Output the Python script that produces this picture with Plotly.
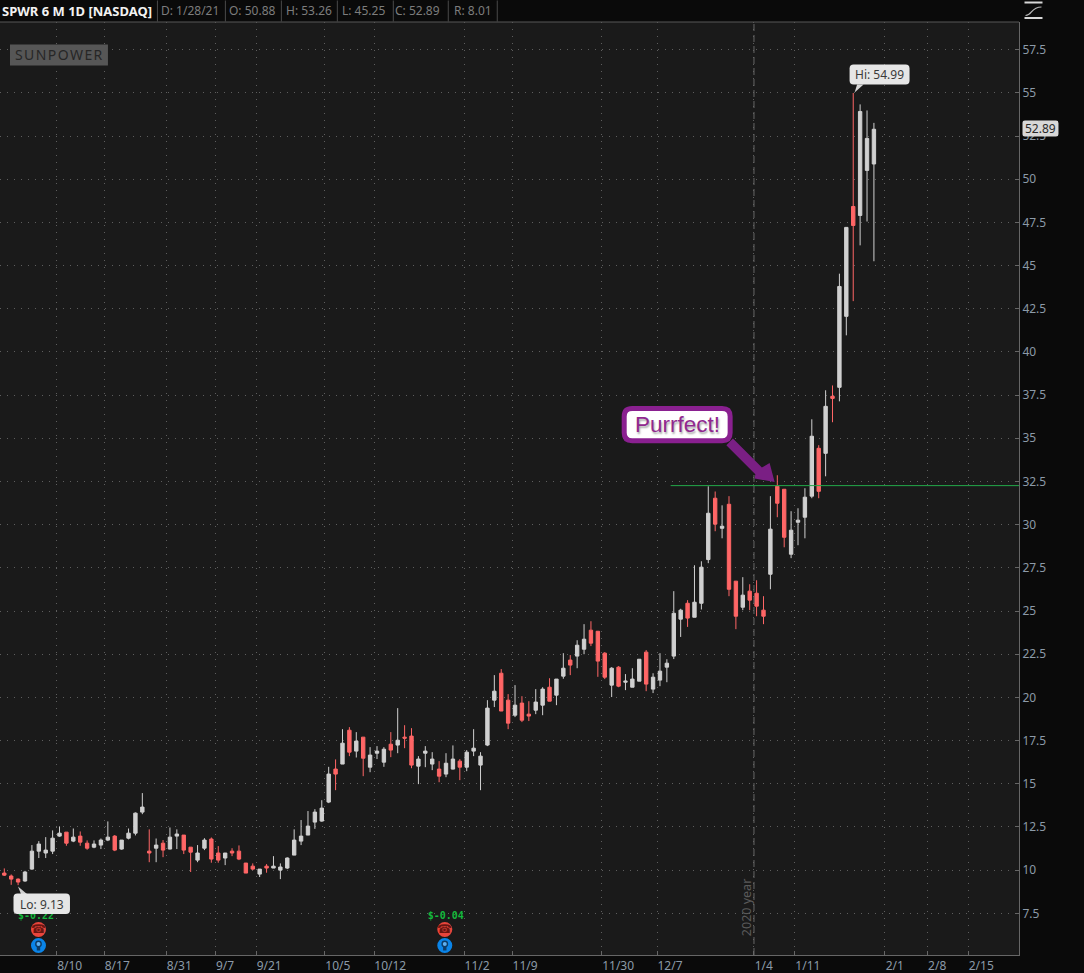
import plotly.graph_objects as go

W, H = 1084, 973
L_M, R_M, T_M, B_M = 0, 64.5, 21.5, 18

CANDLE_INDEX = list(range(127))

OPEN = [9.83, 9.66, 9.48, 9.37, 10.06, 11.10, 10.99, 11.10, 11.97, 12.20,
        11.68, 11.97, 11.56, 11.33, 11.45, 11.74, 11.97, 11.22, 11.85, 12.14,
        13.36, 11.10, 11.27, 11.56, 11.22, 11.97, 12.03, 11.33, 10.58, 11.27,
        11.80, 10.99, 10.70, 11.10, 11.10, 10.41, 10.23, 9.77, 10.23, 10.12,
        10.00, 10.12, 10.87, 11.68, 12.03, 12.78, 12.84, 13.94, 15.85, 16.14,
        18.10, 16.89, 17.70, 15.96, 16.77, 16.25, 17.29, 17.24, 17.70, 17.76,
        16.02, 16.77, 16.14, 15.85, 15.56, 15.85, 16.31, 15.96, 16.89, 16.08,
        17.24, 19.84, 21.40, 19.84, 18.97, 19.67, 19.03, 19.26, 19.55, 20.59,
        20.13, 21.23, 22.16, 22.39, 22.79, 23.89, 23.83, 22.56, 20.71, 21.75,
        20.88, 20.59, 20.94, 22.62, 20.48, 21.00, 21.75, 22.39, 24.53, 25.45,
        24.64, 25.45, 27.98, 31.53, 29.79, 31.18, 26.73, 25.22, 26.15, 26.03,
        25.05, 27.13, 32.22, 32.05, 28.29, 30.14, 30.43, 31.65, 34.42, 34.13,
        37.43, 37.95, 42.06, 48.42, 47.90, 50.51, 50.88]
HIGH = [10.10, 9.75, 9.52, 9.96, 11.45, 11.68, 11.91, 12.30, 12.53, 12.20,
        12.41, 12.24, 11.72, 11.72, 11.83, 12.82, 12.03, 11.74, 12.41, 13.34,
        14.46, 12.36, 11.83, 11.74, 12.47, 12.36, 12.03, 11.33, 11.45, 11.85,
        11.89, 11.39, 10.99, 11.27, 11.43, 10.41, 10.39, 10.06, 10.35, 10.81,
        10.39, 10.74, 12.36, 12.90, 13.42, 13.53, 14.05, 15.98, 16.41, 18.16,
        18.28, 17.99, 17.70, 17.12, 17.18, 17.12, 17.99, 19.38, 18.39, 18.22,
        16.60, 17.18, 16.83, 16.31, 16.77, 17.22, 16.43, 16.95, 18.16, 16.83,
        19.84, 21.29, 21.64, 20.19, 20.71, 20.07, 19.78, 20.48, 20.59, 21.11,
        21.06, 22.56, 22.45, 23.31, 24.24, 24.41, 23.83, 22.62, 21.75, 21.81,
        21.35, 21.69, 22.21, 22.74, 21.40, 22.56, 22.21, 26.15, 25.13, 25.63,
        27.65, 27.88, 32.22, 31.92, 31.12, 31.65, 26.73, 26.96, 26.55, 26.78,
        25.86, 31.65, 32.86, 32.05, 30.78, 30.95, 32.11, 36.10, 34.60, 37.78,
        38.06, 44.53, 47.23, 54.99, 54.33, 53.98, 53.26]
LOW = [9.66, 9.15, 9.13, 9.33, 10.02, 10.70, 10.70, 10.93, 11.93, 11.41,
       11.62, 11.41, 11.18, 11.27, 11.22, 11.68, 11.10, 11.18, 11.78, 12.01,
       13.24, 10.46, 10.46, 10.75, 11.20, 11.22, 10.93, 9.89, 10.46, 11.16,
       10.43, 10.43, 10.29, 10.81, 10.58, 9.83, 10.00, 9.60, 9.85, 10.12,
       9.48, 10.06, 10.87, 11.45, 12.03, 12.39, 12.80, 13.88, 14.63, 16.14,
       16.60, 16.52, 15.44, 15.67, 16.43, 15.98, 16.54, 16.77, 17.06, 15.90,
       14.98, 15.96, 15.79, 15.09, 15.38, 15.83, 15.21, 15.73, 16.60, 14.63,
       17.18, 19.44, 19.21, 18.16, 18.86, 18.57, 18.63, 19.03, 18.97, 19.78,
       19.55, 21.08, 21.29, 21.69, 22.50, 22.97, 21.19, 21.06, 20.02, 20.59,
       20.42, 20.59, 20.94, 20.36, 20.25, 20.65, 20.88, 22.22, 23.50, 24.08,
       24.64, 25.09, 27.77, 29.62, 29.21, 25.86, 23.95, 25.05, 25.05, 24.70,
       24.24, 26.26, 30.43, 28.69, 28.06, 28.81, 29.21, 31.53, 31.53, 32.80,
       35.93, 37.14, 40.96, 42.94, 46.17, 47.55, 45.25]
CLOSE = [9.71, 9.48, 9.31, 9.89, 11.10, 11.51, 11.16, 11.85, 12.14, 11.56,
         11.91, 11.62, 11.27, 11.51, 11.74, 11.91, 11.16, 11.74, 12.14, 13.30,
         13.65, 10.99, 11.45, 11.16, 11.91, 12.09, 11.16, 11.04, 10.99, 11.74,
         10.64, 10.58, 10.99, 10.99, 10.64, 9.83, 10.06, 10.06, 10.12, 10.23,
         10.18, 10.70, 11.74, 11.97, 12.55, 13.36, 13.59, 15.56, 15.56, 17.35,
         16.83, 17.47, 16.48, 16.66, 16.89, 17.00, 16.95, 17.52, 17.64, 16.08,
         16.43, 16.89, 16.43, 15.44, 16.19, 16.43, 15.96, 16.83, 17.06, 16.60,
         19.38, 20.36, 19.21, 18.51, 19.55, 18.68, 18.92, 19.73, 20.48, 19.78,
         21.06, 21.69, 21.87, 23.02, 23.37, 23.14, 22.10, 21.17, 21.69, 20.65,
         20.94, 21.06, 22.21, 20.77, 21.17, 21.52, 21.98, 24.87, 25.05, 24.59,
         25.51, 27.54, 30.66, 30.03, 29.91, 26.26, 24.70, 25.92, 25.63, 25.28,
         24.70, 29.74, 31.24, 29.27, 29.68, 30.26, 31.59, 35.12, 31.93, 36.85,
         37.31, 43.79, 47.21, 47.32, 53.92, 52.36, 52.89]

X_TICK_VALS = [7.59, 14.48, 23.46, 30.56, 36.50, 46.44, 53.58, 66.62, 73.57,
               86.60, 94.57, 108.62, 114.55, 127.59, 133.73, 139.67]
NB = "\u00a0"
X_TICK_TEXT = ["8/10", "8/17", "8/31", "9/7" + NB * 2, "9/21", "10/5", NB * 2 + "10/12", "11/2",
               "11/9", NB * 2 + "11/30", "12/7", "1/4" + NB * 2, "1/11", "2/1" + NB * 2, "2/8" + NB * 2, "2/15"]
Y_TICK_VALS = [7.5, 10, 12.5, 15, 17.5, 20, 22.5, 25, 27.5, 30, 32.5, 35, 37.5,
               40, 42.5, 45, 47.5, 50, 52.5, 55, 57.5]
Y_TICK_TEXT = ["7.5", "10", "12.5", "15", "17.5", "20", "22.5", "25", "27.5",
               "30", "32.5", "35", "37.5", "40", "42.5", "45", "47.5", "50",
               "52.5", "55", "57.5"]
X_RANGE = [-0.623, 147.02]
Y_RANGE = [5.087, 59.10]

EARNINGS_X = [4.6, 63.97]
EARNINGS_Y = [7.34, 7.34]
EARNINGS_TEXT = ["$-0.22", "$-0.04"]

SUPPORT_LEVEL = 32.26
SUPPORT_START = 96.55
YEAR_BREAK = 108.62

HEADER_TITLE = "SPWR 6 M 1D [NASDAQ]"
HEADER_CELLS = ["D: 1/28/21", "O: 50.88", "H: 53.26", "L: 45.25", "C: 52.89", "R: 8.01"]
HEADER_CELL_X = [161, 229, 286, 342, 395, 454]
HEADER_SEPS = [157.5, 225.5, 281.5, 337.5, 393.5, 448.5, 497.5]

UP = "#d0d0d0"
DOWN = "#ff6666"
AXIS_TXT = "#8c9aa8"
FONT = "Noto Sans"


def px(x):
    return (x - L_M) / (W - L_M - R_M)


def py(y):
    return 1 - (y - T_M) / (H - T_M - B_M)


def round_path(x0, y0, x1, y1, r):
    def P(x, y):
        return f"{px(x):.5f},{py(y):.5f}"
    return (f"M{P(x0 + r, y0)} L{P(x1 - r, y0)} Q{P(x1, y0)} {P(x1, y0 + r)} "
            f"L{P(x1, y1 - r)} Q{P(x1, y1)} {P(x1 - r, y1)} L{P(x0 + r, y1)} "
            f"Q{P(x0, y1)} {P(x0, y1 - r)} L{P(x0, y0 + r)} Q{P(x0, y0)} {P(x0 + r, y0)} Z")


def poly(points):
    return "M" + " L".join(f"{px(x):.5f},{py(y):.5f}" for x, y in points) + " Z"


shapes = []
annots = []


def add_path(path, fill=None, line=None, width=0):
    shapes.append(dict(type="path", xref="paper", yref="paper", path=path, layer="above",
                       fillcolor=fill or "rgba(0,0,0,0)",
                       line=dict(color=line or "rgba(0,0,0,0)", width=width)))


def add_rect(x0, y0, x1, y1, fill):
    shapes.append(dict(type="rect", xref="paper", yref="paper", x0=px(x0), x1=px(x1),
                       y0=py(y1), y1=py(y0), fillcolor=fill, line=dict(width=0), layer="above"))


def add_line(x0, y0, x1, y1, color, width=1):
    shapes.append(dict(type="line", xref="paper", yref="paper", x0=px(x0), x1=px(x1),
                       y0=py(y0), y1=py(y1), line=dict(color=color, width=width), layer="above"))


def add_circle(cx, cy, r, fill):
    shapes.append(dict(type="circle", xref="paper", yref="paper", x0=px(cx - r), x1=px(cx + r),
                       y0=py(cy + r), y1=py(cy - r), fillcolor=fill, line=dict(width=0), layer="above"))


def add_text(x, y, text, size=12, color="#888", anchor="left", family=FONT):
    annots.append(dict(xref="paper", yref="paper", x=px(x), y=py(y), text=text, showarrow=False,
                       xanchor=anchor, yanchor="middle", align=anchor,
                       font=dict(family=family, size=size, color=color),
                       borderpad=0, borderwidth=0))


# header strip
add_text(2, 10, f"<b>{HEADER_TITLE}</b>", size=13, color="#f2f2f2")
for x, t in zip(HEADER_CELL_X, HEADER_CELLS):
    add_text(x, 10, t, size=12, color="#7d7d7d")
for x in HEADER_SEPS:
    add_line(x, 0, x, 21, "#4a4a4a")
add_line(0, 21.5, 1019.5, 21.5, "#565656")

# top-right icon
add_line(1025, 2, 1043, 2, "#d8d8d8", 2)
add_line(1025, 17.5, 1043, 17.5, "#d8d8d8", 2)
shapes.append(dict(type="path", xref="paper", yref="paper", layer="above",
                   path=f"M{px(1026):.5f},{py(15):.5f} C{px(1033):.5f},{py(15):.5f} "
                        f"{px(1031):.5f},{py(6.5):.5f} {px(1042):.5f},{py(6.5):.5f}",
                   line=dict(color="#b8b8b8", width=1.2)))

# Sunpower logo
add_rect(10, 44, 108, 65, "#565656")
add_text(59, 54.5, "\u200a".join("SUNPOWER"), size=14, color="#262626", anchor="center")

# vertical year break and horizontal level
shapes.append(dict(type="line", xref="x", yref="paper", x0=YEAR_BREAK, x1=YEAR_BREAK, y0=0, y1=1,
                   line=dict(color="#666666", width=1, dash="7px,4px"), layer="above"))
shapes.append(dict(type="line", xref="x", yref="y", x0=SUPPORT_START, x1=X_RANGE[1],
                   y0=SUPPORT_LEVEL, y1=SUPPORT_LEVEL,
                   line=dict(color="#23a84a", width=1), layer="above"))
annots.append(dict(xref="paper", yref="paper", x=px(747), y=py(907.5), text="2020 year", textangle=-90,
                   xanchor="center", yanchor="middle", showarrow=False,
                   font=dict(family=FONT, size=12.5, color="#5a5a5a")))

# Purrfect callout
add_path(poly([(733.3, 438.3), (762.3, 467.3), (770, 462.7), (775, 481.7), (755, 478.3),
               (755.7, 474), (726.7, 445)]), fill="#7a1f84")
add_path(round_path(624.5, 408.2, 730.5, 440.5, 8), fill="#ffffff", line="#8a2090", width=5)
annots.append(dict(xref="paper", yref="paper", x=px(677.5), y=py(424.5), text="Purrfect!", showarrow=False,
                   font=dict(family="Liberation Sans", size=22.5, color="#90288f",
                             shadow="1px 2px 2px rgba(0,0,0,0.35)")))

# Hi callout
add_path(poly([(855, 92), (857.5, 84), (864, 84)]), fill="#d8d8d8")
add_path(round_path(850, 64, 910, 84, 4), fill="#e6e6e6")
add_text(880, 74.5, "Hi: 54.99", size=12, color="#3a3a3a", anchor="center")

# Lo callout
add_path(poly([(18, 886.5), (21, 894), (27, 894)]), fill="#d0d0d0")
add_path(round_path(13.5, 893.5, 70, 914, 4), fill="#e6e6e6")
add_text(42, 904.5, "Lo: 9.13", size=12, color="#3a3a3a", anchor="center")

# last price tag
add_path(round_path(1023, 120, 1059, 136, 2.5), fill="#d8d8d8")
add_text(1041, 128.5, "52.89", size=12, color="#2a2a2a", anchor="center")

# earnings / dividend markers
for cx in (38.5, 445):
    add_circle(cx, 929.5, 7.5, "#e8453c")
    add_text(cx, 929, "\u260e", size=12, color="#6a1510", anchor="center", family="DejaVu Sans")
    add_circle(cx, 945.5, 7.5, "#0a84e8")
    add_circle(cx, 944, 3.4, "#0d3c66")
    add_circle(cx, 944, 2, "#5fb0f0")
    add_rect(cx - 1.7, 947, cx + 1.7, 950.5, "#0d3c66")

candles = go.Candlestick(
    x=CANDLE_INDEX, open=OPEN, high=HIGH, low=LOW, close=CLOSE,
    whiskerwidth=0,
    increasing=dict(line=dict(color=UP, width=1), fillcolor=UP),
    decreasing=dict(line=dict(color=DOWN, width=1), fillcolor=DOWN),
    showlegend=False,
)
earnings = go.Scatter(
    x=EARNINGS_X, y=EARNINGS_Y, text=EARNINGS_TEXT, mode="text", textposition="middle center",
    textfont=dict(family="DejaVu Sans Mono", size=10, color="#14b83c", weight="bold"),
    showlegend=False, hoverinfo="skip",
)

fig = go.Figure([candles, earnings])
fig.update_layout(
    width=W, height=H,
    margin=dict(l=L_M, r=R_M, t=T_M, b=B_M, pad=0, autoexpand=False),
    paper_bgcolor="#0a0a0a", plot_bgcolor="#1a1a1a",
    boxgap=0.3,
    showlegend=False,
    shapes=shapes, annotations=annots,
    font=dict(family=FONT, size=12, color=AXIS_TXT),
    xaxis=dict(
        type="linear", range=X_RANGE, rangeslider=dict(visible=False), tickmode="array",
        tickvals=X_TICK_VALS, ticktext=X_TICK_TEXT, showgrid=True, gridcolor="#5e5e5e",
        griddash="1px,6px", gridwidth=1, zeroline=False, ticks="inside", ticklen=4,
        tickcolor="#666666", showline=True, linecolor="#666666", linewidth=1,
        tickfont=dict(family=FONT, size=12, color=AXIS_TXT), ticklabelshift=13, ticklabelstandoff=0,
    ),
    yaxis=dict(
        type="linear", range=Y_RANGE, side="right", tickmode="array",
        tickvals=Y_TICK_VALS, ticktext=Y_TICK_TEXT, showgrid=True, gridcolor="#5e5e5e",
        griddash="1px,6px", gridwidth=1, zeroline=False, ticks="inside", ticklen=4,
        tickcolor="#666666", showline=True, linecolor="#666666", linewidth=1,
        tickfont=dict(family=FONT, size=12, color=AXIS_TXT),
    ),
)

fig.write_html("out.html", config=dict(displayModeBar=False),
               post_script="document.body.style.margin='0';document.body.style.overflow='hidden';")
